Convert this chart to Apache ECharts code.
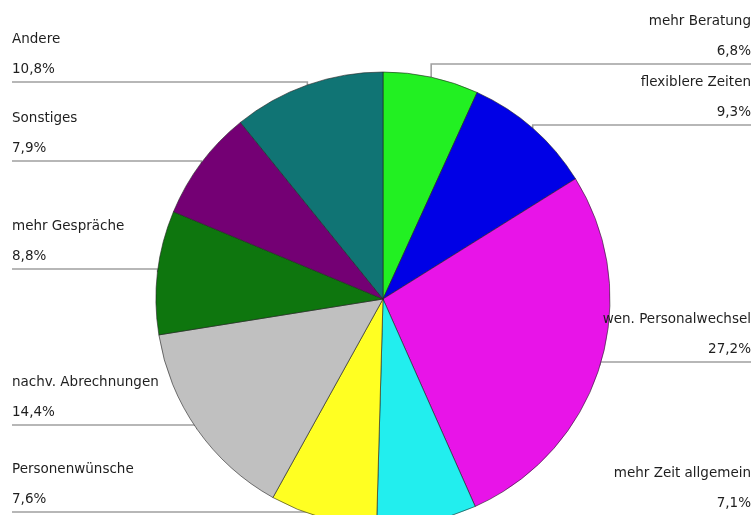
<!DOCTYPE html>
<html>
<head>
<meta charset="utf-8">
<script src="https://cdn.jsdelivr.net/npm/echarts@6/dist/echarts.min.js"></script>
<style>
html,body{margin:0;padding:0;background:#fff;}
#c{width:754px;height:515px;}
</style>
</head>
<body>
<div id="c"></div>
<script>
// ---- data ----
const categories = ['mehr Beratung', 'flexiblere Zeiten', 'wen. Personalwechsel', 'mehr Zeit allgemein', 'Personenwünsche', 'nachv. Abrechnungen', 'mehr Gespräche', 'Sonstiges', 'Andere'];
const values = [6.8, 9.3, 27.2, 7.1, 7.6, 14.4, 8.8, 7.9, 10.8];

// ---- styles / layout ----
const colors = ['#22f022', '#0000e6', '#e814e8', '#22eeee', '#ffff22', '#c0c0c0', '#0e760e', '#740074', '#107474'];
const labelSide = ['right', 'right', 'right', 'right', 'left', 'left', 'left', 'left', 'left'];
const labelLineY = [64, 125, 362, 516, 512, 425, 269, 161, 82];
const CX = 383, CY = 299, R = 227;
const LEFT_X = 12, RIGHT_X = 751;
const FONT = 'DejaVu Sans, Verdana, sans-serif';

const total = values.reduce((a, b) => a + b, 0);
const midPts = [];
(function () {
  let cum = 0;
  values.forEach(v => {
    const a = (cum + v / 2) / total * Math.PI * 2;
    midPts.push([CX + R * Math.sin(a), CY - R * Math.cos(a)]);
    cum += v;
  });
})();

const chart = echarts.init(document.getElementById('c'), null, {renderer: 'canvas'});
chart.setOption({
  animation: false,
  backgroundColor: '#fff',
  series: [{
    type: 'pie',
    center: [CX, CY],
    radius: R,
    startAngle: 90,
    clockwise: true,
    avoidLabelOverlap: false,
    data: categories.map((c, i) => ({name: c, value: values[i], itemStyle: {color: colors[i]}})),
    itemStyle: {borderColor: '#222', borderWidth: 0.6},
    emphasis: {disabled: true},
    label: {
      show: true,
      position: 'outside',
      formatter: p => '{n|' + p.name + '}\n{p|' + p.value.toFixed(1).replace('.', ',') + '%}',
      rich: {
        n: {fontFamily: FONT, fontSize: 13.5, color: '#1e1e1e', lineHeight: 30.5},
        p: {fontFamily: FONT, fontSize: 13.5, color: '#1e1e1e', lineHeight: 30.5}
      }
    },
    labelLine: {show: true, smooth: false, lineStyle: {color: '#a0a0a0', width: 1.6}},
    labelLayout: function (params) {
      const i = params.dataIndex;
      const ly = labelLineY[i];
      const m = midPts[i];
      const left = labelSide[i] === 'left';
      const ox = left ? LEFT_X : RIGHT_X;
      return {
        x: ox,
        y: ly + 3,
        align: left ? 'left' : 'right',
        verticalAlign: 'bottom',
        labelLinePoints: [[ox, ly], [m[0], ly], [m[0], m[1]]]
      };
    }
  }]
});
</script>
</body>
</html>
